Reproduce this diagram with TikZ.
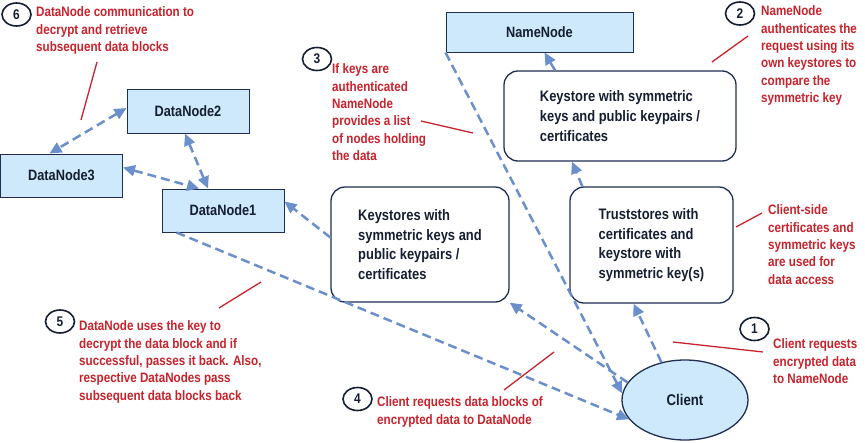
\documentclass[tikz,border=0pt]{standalone}
\usepackage{fontspec}
\setmainfont{Liberation Sans}[FakeStretch=0.85]
\usetikzlibrary{arrows.meta,shapes.geometric}
\definecolor{boxfill}{RGB}{205,233,251}
\definecolor{navy}{RGB}{32,46,82}
\definecolor{ink}{RGB}{22,30,50}
\definecolor{lblue}{RGB}{106,143,203}
\definecolor{redc}{RGB}{200,34,44}
\tikzset{
 dnbox/.style={draw=navy, line width=1pt, fill=boxfill, inner sep=0pt, text=ink, font=\bfseries\fontsize{15}{18}\selectfont},
 rbox/.style={draw=navy, line width=1.3pt, rounded corners=14pt, fill=white, align=left, inner sep=0pt, text=ink, font=\bfseries\fontsize{15.2}{19.8}\selectfont},
 conn/.style={draw=lblue, line width=2.5pt, dash pattern=on 9pt off 5pt, -{Triangle[length=12pt,width=11pt]}},
 bconn/.style={conn, {Triangle[length=12pt,width=11pt]}-{Triangle[length=12pt,width=11pt]}},
 num/.style={ellipse, draw=ink, line width=1.6pt, minimum width=29pt, minimum height=23pt, inner sep=0pt, text=ink, font=\bfseries\fontsize{14}{14}\selectfont},
 note/.style={text=redc, align=left, anchor=north west, inner sep=0pt, font=\bfseries\fontsize{13.7}{17.4}\selectfont},
 lead/.style={draw=redc, line width=1.3pt},
}
\begin{document}
\begin{tikzpicture}[x=1pt,y=-1pt]
\useasboundingbox (0,0) rectangle (865,442);
% boxes
\node[dnbox, minimum width=122pt, minimum height=44pt] (dn2) at (188,111) {DataNode2};
\node[dnbox, minimum width=122pt, minimum height=43pt] (dn3) at (61.5,175.5) {DataNode3};
\node[dnbox, minimum width=122pt, minimum height=43pt] (dn1) at (223,210.5) {DataNode1};
\node[dnbox, minimum width=187pt, minimum height=40pt] (nn) at (539.5,32) {NameNode};
\node[rbox, minimum width=232pt, minimum height=90pt] (ks2) at (620,116) {Keystore with symmetric\\keys and public keypairs /\\certificates};
\node[rbox, minimum width=178pt, minimum height=115pt] (ks1) at (420,244.5) {Keystores with\\symmetric keys and\\public keypairs /\\certificates};
\node[rbox, minimum width=163pt, minimum height=116pt] (ts) at (651.5,245) {Truststores with\\certificates and\\keystore with\\symmetric key(s)};
\node[ellipse, draw=navy, line width=1.3pt, fill=boxfill, minimum width=126pt, minimum height=80pt, inner sep=0pt, text=ink, font=\bfseries\fontsize{15.5}{18}\selectfont] (client) at (685,400) {Client};
% connectors
\draw[bconn] ([yshift=3pt]dn2.west) -- ([xshift=-12pt]dn3.north);
\draw[bconn] ([xshift=-3pt]dn2.south) -- ([xshift=-15pt]dn1.north);
\draw[bconn] ([yshift=8pt]dn3.east) -- ([xshift=-24pt]dn1.north);
\draw[conn] ([yshift=7pt]ks1.west) -- ([yshift=9pt]dn1.east);
\draw[conn] ([xshift=15pt]dn1.south west) -- (client.199);
\draw[conn] (nn.south west) -- (client.174);
\draw[conn] (client.163) -- (ks1.south east);
\draw[conn] (client.122) -- ([xshift=-18pt]ts.south);
\draw[conn] ([xshift=13pt]ts.north west) -- ([xshift=-48pt]ks2.south);
\draw[conn] ([xshift=-65pt]ks2.north) -- ([xshift=5pt]nn.south);
% numbers
\node[num] (c6) at (16.5,14.5) {6};
\node[num] (c3) at (317,59) {3};
\node[num] (c2) at (740,13.5) {2};
\node[num] (c5) at (60,321.5) {5};
\node[num] (c4) at (357.5,399) {4};
\node[num] (c1) at (754.5,329) {1};
% notes
\node[note] (t6) at (36,6.5) {DataNode communication to\\decrypt and retrieve\\subsequent data blocks};
\node[note] (t3) at (332,63.5) {If keys are\\authenticated\\NameNode\\provides a list\\of nodes holding\\the data};
\node[note] (t2) at (761,5.5) {NameNode\\authenticates the\\request using its\\own keystores to\\compare the\\symmetric key};
\node[note] (tcs) at (768,204.5) {Client-side\\certificates and\\symmetric keys\\are used for\\data access};
\node[note] (t1) at (773,338.5) {Client requests\\encrypted data\\to NameNode};
\node[note] (t5) at (79,320.5) {DataNode uses the key to\\decrypt the data block and if\\successful, passes it back. Also,\\respective DataNodes pass\\subsequent data blocks back};
\node[note] (t4) at (377,396.5) {Client requests data blocks of\\encrypted data to DataNode};
% leader lines
\coordinate (l6a) at (97,62); \coordinate (l6b) at (81,120);
\coordinate (l3a) at (421,121); \coordinate (l3b) at (473,133);
\coordinate (l2a) at (748,36); \coordinate (l2b) at (712,62);
\coordinate (lca) at (762,213); \coordinate (lcb) at (736,227);
\coordinate (l1a) at (763,352); \coordinate (l1b) at (673,342);
\coordinate (l5a) at (219,308); \coordinate (l5b) at (261,282);
\coordinate (l4a) at (504,390); \coordinate (l4b) at (554,352);
\draw[lead] (l6a) -- (l6b);
\draw[lead] (l3a) -- (l3b);
\draw[lead] (l2a) -- (l2b);
\draw[lead] (lca) -- (lcb);
\draw[lead] (l1a) -- (l1b);
\draw[lead] (l5a) -- (l5b);
\draw[lead] (l4a) -- (l4b);
\end{tikzpicture}
\end{document}
